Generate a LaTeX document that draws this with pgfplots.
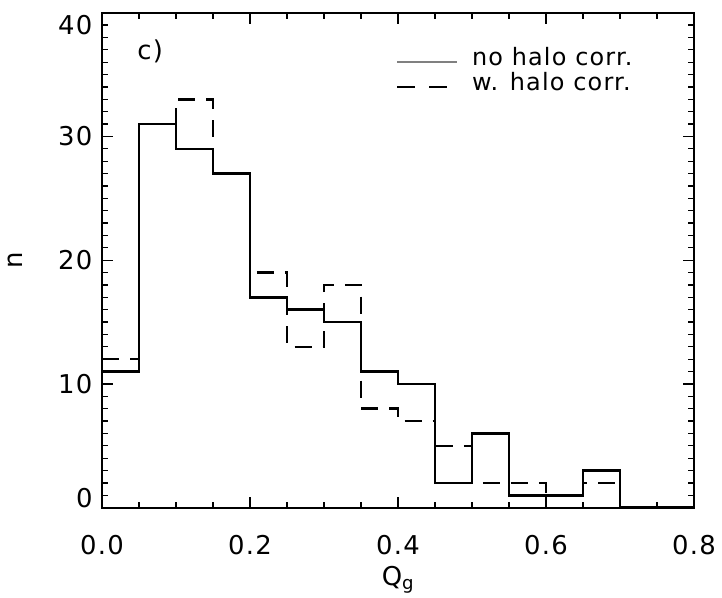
\documentclass[border=0pt]{standalone}
\usepackage{fontspec}
\setmainfont[LetterSpace=5]{DejaVu Sans}
\usepackage{pgfplots}
\pgfplotsset{compat=1.18}
\begin{document}
\begin{tikzpicture}
\begin{axis}[
  scale only axis,
  width=592bp, height=495bp,
  xmin=0, xmax=0.8, ymin=0, ymax=40,
  xtick={0,0.2,0.4,0.6,0.8},
  ytick={0,10,20,30,40},
  yticklabels={,10,20,30,},
  extra y ticks={0.8,39.0},
  extra y tick labels={0,40},
  extra y tick style={major tick length=0pt, tick style={draw=none}},
  minor x tick num=3,
  minor y tick num=9,
  tick align=inside,
  major tick length=11bp,
  minor tick length=6bp,
  every tick/.style={black, line width=1.3bp},
  axis line style={line width=1.7bp},
  /pgf/number format/assume math mode=true,
  xticklabel style={yshift=-24bp, /pgf/number format/fixed, /pgf/number format/fixed zerofill, /pgf/number format/precision=1},
  ticklabel style={font=\fontsize{26}{30}\selectfont},
  yticklabel style={xshift=-6bp},
  xlabel={Q\textsubscript{g}},
  ylabel={n},
  label style={font=\fontsize{26}{30}\selectfont},
  xlabel style={at={(axis description cs:0.5,-0.145)}, anchor=center},
  ylabel style={at={(axis description cs:-0.146,0.5)}, anchor=center},
  clip=false,
  legend style={at={(axis cs:0.393,37.5)}, anchor=north west, draw=none, fill=none,
    font=\fontsize{24}{28}\selectfont, row sep=1bp,
    /tikz/every odd column/.append style={column sep=12bp}},
  legend cell align=left,
  legend image code/.code={\draw[#1] (0bp,-0.45em) -- (60bp,-0.45em);},
]
\addlegendimage{gray, line width=1.5bp}
\addlegendentry{no halo corr.}
\addlegendimage{black, line width=2bp, dash pattern=on 18bp off 14bp}
\addlegendentry{w. halo corr.}

\addplot[const plot, black, line width=2.6bp, dash pattern=on 17bp off 11bp, forget plot] coordinates {
(0,12) (0.05,31) (0.1,33) (0.15,27) (0.2,19) (0.25,13) (0.3,18) (0.35,8) (0.4,7) (0.45,5) (0.5,2) (0.55,2) (0.6,1) (0.65,2) (0.7,0) (0.75,0) (0.8,0)
};
\addplot[const plot, black, line width=2.6bp, forget plot] coordinates {
(0,11) (0.05,31) (0.1,29) (0.15,27) (0.2,17) (0.25,16) (0.3,15) (0.35,11) (0.4,10) (0.45,2) (0.5,6) (0.55,1) (0.6,1) (0.65,3) (0.7,0) (0.75,0) (0.8,0)
};
\node[font=\fontsize{26}{30}\selectfont] at (axis cs:0.065,36.9) {c)};
\end{axis}
\pgfresetboundingbox
\path ([shift={(-102bp,-90bp)}]current axis.south west) rectangle ([shift={(28bp,12.7bp)}]current axis.north east);
\end{tikzpicture}
\end{document}
